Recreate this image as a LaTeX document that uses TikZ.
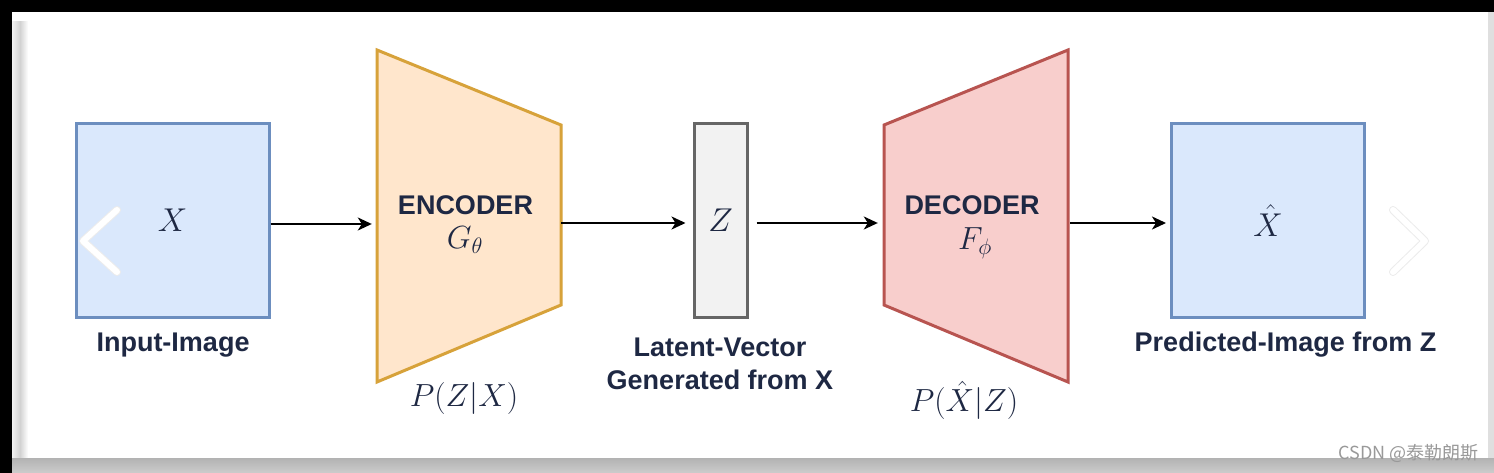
\RequirePackage{fix-cm}
\documentclass[tikz,border=0pt]{standalone}
\usepackage{fontspec}
\newfontfamily\labfont{Liberation Sans}
\newfontfamily\cjkfont{Noto Sans CJK SC}
\usetikzlibrary{arrows.meta}
\definecolor{bluefill}{HTML}{DAE8FC}
\definecolor{bluedraw}{HTML}{6C8EBF}
\definecolor{orfill}{HTML}{FFE6CC}
\definecolor{ordraw}{HTML}{D7A23A}
\definecolor{redfill}{HTML}{F8CECC}
\definecolor{reddraw}{HTML}{B85450}
\definecolor{zfill}{HTML}{F2F2F2}
\definecolor{zdraw}{HTML}{666666}
\definecolor{navy}{HTML}{1E2843}
\definecolor{wmgray}{HTML}{999999}
\tikzset{
  imgbox/.style={draw=bluedraw, fill=bluefill, line width=3pt, minimum width=193pt, minimum height=193pt, inner sep=0pt, text=navy, font=\fontsize{33}{36}\selectfont},
  zbox/.style={draw=zdraw, fill=zfill, line width=3pt, minimum width=53pt, minimum height=193pt, inner sep=0pt, text=navy, font=\fontsize{33}{36}\selectfont},
  trapbox/.style={minimum width=184pt, minimum height=180pt, inner sep=0pt},
  enctrap/.style={draw=ordraw, fill=orfill, line width=3pt, line join=miter},
  dectrap/.style={draw=reddraw, fill=redfill, line width=3pt, line join=miter},
  lab/.style={text=navy, font=\labfont\bfseries\fontsize{27}{33}\selectfont, inner sep=0pt, align=center},
  mathlab/.style={text=navy, font=\fontsize{32}{36}\selectfont, inner sep=0pt},
  arr/.style={draw=black, line width=2pt, -{Stealth[length=14pt,width=13pt,inset=4pt]}, shorten >=5pt},
  chev/.style={line width=6pt, line cap=round, line join=round},
}
\begin{document}
\begin{tikzpicture}[x=1pt,y=-1pt]
\useasboundingbox (0,0) rectangle (1494,473);
% frame and panel
\fill[black] (0,0) rectangle (1494,473);
\fill[white] (12,12) rectangle (1488,458);
\shade[left color=white!90!gray, right color=white, middle color=gray!35] (12,22) rectangle (28,458);
\shade[top color=gray!60, bottom color=gray!40] (12,458) rectangle (1494,473);
\fill[gray!25] (1488,12) rectangle (1494,458);

% input image
\node[imgbox] (in) at (172.5,220.5) {$X$};
\node[lab] (inlab) at (173,345) {Input-Image};

% encoder
\draw[enctrap] (377,50) -- (561,125) -- (561,305) -- (377,382) -- cycle;
\node[trapbox] (enc) at (469,215) {};
\node[lab] (enctxt) at (465.5,205) {ENCODER};
\node[mathlab] (encg) at (465,240) {$G_\theta$};
\node[mathlab] (encp) at (464,398) {$P(Z|X)$};

% latent vector
\node[zbox] (z) at (720.5,220.5) {$Z$};
\node[lab] (zlab1) at (720,347) {Latent-Vector};
\node[lab] (zlab2) at (720,380) {Generated from X};

% decoder
\draw[dectrap] (884,125) -- (1068,50) -- (1068,382) -- (884,305) -- cycle;
\node[trapbox] (dec) at (976,215) {};
\node[lab] (dectxt) at (972,205) {DECODER};
\node[mathlab] (decf) at (975,243) {$F_\phi$};
\node[mathlab] (decp) at (964,400) {$P(\hat{X}|Z)$};

% output image
\node[imgbox] (out) at (1268,220.5) {$\hat{X}$};
\node[lab] (outlab) at (1285.5,345) {Predicted-Image from Z};

% connectors
\coordinate (a1s) at (in.east |- 0,224);
\draw[arr] (a1s) -- (a1s -| enc.west);
\coordinate (a2s) at (enc.east |- 0,223);
\draw[arr, shorten >=7pt] (a2s) -- (a2s -| z.west);
\coordinate (a3s) at (z.east |- 0,223);
\draw[arr, shorten <=8pt, shorten >=6pt] (a3s) -- (a3s -| dec.west);
\coordinate (a4s) at (dec.east |- 0,223);
\draw[arr, shorten <=2pt, shorten >=4pt] (a4s) -- (a4s -| out.west);

% slide chevrons
\draw[chev, draw=gray!15, line width=8pt] (117,210) -- (83,241) -- (117,272);
\draw[chev, draw=white] (117,210) -- (83,241) -- (117,272);
\draw[chev, draw=gray!15, line width=8pt] (1393,210) -- (1425,241) -- (1393,272);
\draw[chev, draw=white] (1393,210) -- (1425,241) -- (1393,272);

% watermark
\node[text=wmgray, font=\cjkfont\fontsize{18}{20}\selectfont, anchor=east, inner sep=0pt] (wm) at (1479,454) {CSDN @泰勒朗斯};
\end{tikzpicture}
\end{document}
